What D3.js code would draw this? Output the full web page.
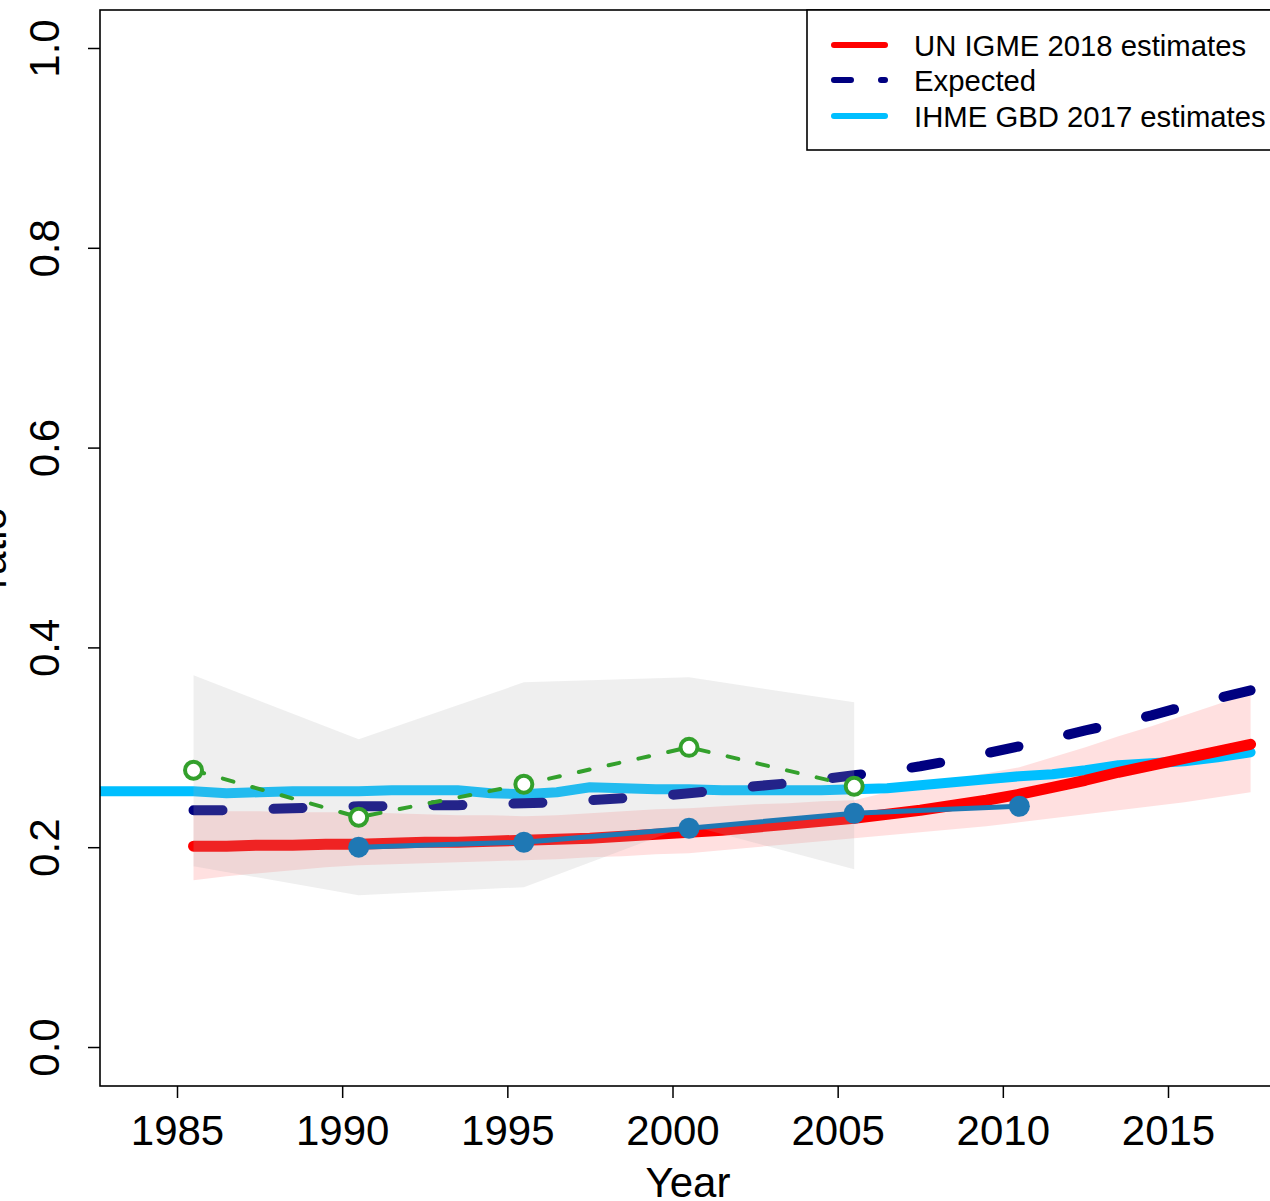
<!DOCTYPE html>
<html>
<head>
<meta charset="utf-8">
<script src="https://cdn.jsdelivr.net/npm/d3@7"></script>
<style>
  html, body { margin: 0; padding: 0; background: #fff; }
  svg { display: block; }
  text { font-family: "Liberation Sans", Arial, Helvetica, sans-serif; fill: #000; }
</style>
</head>
<body>
<svg id="chart" width="1270" height="1201"></svg>
<script>
// ---------------- data ----------------
const estYears = [1985.5,1986.5,1987.5,1988.5,1989.5,1990.5,1991.5,1992.5,1993.5,1994.5,
  1995.5,1996.5,1997.5,1998.5,1999.5,2000.5,2001.5,2002.5,2003.5,2004.5,
  2005.5,2006.5,2007.5,2008.5,2009.5,2010.5,2011.5,2012.5,2013.5,2014.5,
  2015.5,2016.5,2017.5];
const igme = [0.201,0.201,0.202,0.202,0.203,0.203,0.204,0.205,0.205,0.206,
  0.207,0.208,0.209,0.211,0.213,0.215,0.217,0.220,0.223,0.226,
  0.229,0.233,0.237,0.242,0.247,0.253,0.260,0.267,0.275,0.282,
  0.289,0.296,0.303];
const igmeLower = [0.167,0.171,0.174,0.177,0.180,0.182,0.183,0.184,0.185,0.186,
  0.187,0.188,0.190,0.191,0.193,0.194,0.197,0.200,0.203,0.206,
  0.209,0.212,0.215,0.218,0.221,0.225,0.229,0.233,0.237,0.241,
  0.245,0.250,0.255];
const igmeUpper = [0.237,0.236,0.236,0.235,0.235,0.235,0.234,0.233,0.232,0.232,
  0.231,0.232,0.234,0.236,0.238,0.239,0.241,0.243,0.244,0.246,
  0.247,0.255,0.262,0.268,0.274,0.280,0.290,0.300,0.311,0.321,
  0.332,0.343,0.354];
const expected = [0.237,0.237,0.238,0.239,0.240,0.241,0.241,0.242,0.242,0.243,
  0.244,0.245,0.247,0.249,0.251,0.254,0.257,0.261,0.264,0.268,
  0.272,0.276,0.281,0.287,0.294,0.301,0.309,0.317,0.324,0.332,
  0.341,0.349,0.357];

const ihmeYears = [1980.5,1981.5,1982.5,1983.5,1984.5,1985.5,1986.5,1987.5,1988.5,1989.5,
  1990.5,1991.5,1992.5,1993.5,1994.5,1995.5,1996.5,1997.5,1998.5,1999.5,
  2000.5,2001.5,2002.5,2003.5,2004.5,2005.5,2006.5,2007.5,2008.5,2009.5,
  2010.5,2011.5,2012.5,2013.5,2014.5,2015.5,2016.5,2017.5];
const ihme = [0.256,0.256,0.256,0.256,0.256,0.256,0.254,0.255,0.256,0.256,
  0.256,0.257,0.257,0.257,0.254,0.253,0.255,0.260,0.259,0.258,
  0.258,0.257,0.257,0.257,0.257,0.258,0.259,0.262,0.265,0.268,
  0.271,0.273,0.277,0.282,0.284,0.286,0.290,0.295];

const obsYears = [1985.5,1990.5,1995.5,2000.5,2005.5];
const obsLower = [0.181,0.152,0.160,0.222,0.178];
const obsUpper = [0.372,0.308,0.365,0.370,0.345];
const obsValues = [0.277,0.230,0.263,0.300,0.261];

const adjYears = [1990.5,1995.5,2000.5,2005.5,2010.5];
const adjValues = [0.200,0.205,0.219,0.234,0.241];

const xTicks = [1985,1990,1995,2000,2005,2010,2015];
const yTicks = [0.0,0.2,0.4,0.6,0.8,1.0];
const legendLabels = ["UN IGME 2018 estimates","Expected","IHME GBD 2017 estimates"];
const xLabel = "Year";
const yLabel = "ratio";

// ---------------- layout ----------------
const plot = {left: 100, top: 10, right: 1276, bottom: 1086};
const x = d3.scaleLinear().domain([1985, 2015]).range([177, 1168]);
const y = d3.scaleLinear().domain([0, 1]).range([1047, 48]);

const svg = d3.select("#chart");
svg.append("defs").append("clipPath").attr("id","plotclip")
  .append("rect").attr("x",plot.left).attr("y",plot.top)
  .attr("width",plot.right-plot.left).attr("height",plot.bottom-plot.top);

const g = svg.append("g").attr("clip-path","url(#plotclip)");

const zip = (xs, ys) => xs.map((v,i) => [v, ys[i]]);
const line = d3.line().x(d => x(d[0])).y(d => y(d[1]));
const area = d3.area().x(d => x(d[0])).y0(d => y(d[1])).y1(d => y(d[2]));

// pink uncertainty band
g.append("path")
  .datum(estYears.map((v,i) => [v, igmeLower[i], igmeUpper[i]]))
  .attr("d", area)
  .attr("fill","rgba(255,0,0,0.12)");

// IHME line
g.append("path").datum(zip(ihmeYears, ihme)).attr("d", line)
  .attr("fill","none").attr("stroke","#00BFFF").attr("stroke-width",10)
  .attr("stroke-linecap","round").attr("stroke-linejoin","round");

// Expected dashed
g.append("path").datum(zip(estYears, expected)).attr("d", line)
  .attr("fill","none").attr("stroke","#000080").attr("stroke-width",10)
  .attr("stroke-dasharray","29 51")
  .attr("stroke-linecap","round").attr("stroke-linejoin","round");

// UN IGME red line
g.append("path").datum(zip(estYears, igme)).attr("d", line)
  .attr("fill","none").attr("stroke","#FF0000").attr("stroke-width",11)
  .attr("stroke-linecap","round").attr("stroke-linejoin","round");

// grey band (overlay)
g.append("path")
  .datum(obsYears.map((v,i) => [v, obsLower[i], obsUpper[i]]))
  .attr("d", area)
  .attr("fill","rgba(175,175,175,0.2)");

// blue adjusted data
g.append("path").datum(zip(adjYears, adjValues)).attr("d", line)
  .attr("fill","none").attr("stroke","#1F78B4").attr("stroke-width",5)
  .attr("stroke-linecap","round").attr("stroke-linejoin","round");
g.selectAll("circle.adj").data(zip(adjYears, adjValues)).enter().append("circle")
  .attr("class","adj").attr("cx", d => x(d[0])).attr("cy", d => y(d[1]))
  .attr("r", 10.5).attr("fill","#1F78B4");

// green observed data
g.append("path").datum(zip(obsYears, obsValues)).attr("d", line)
  .attr("fill","none").attr("stroke","#33A02C").attr("stroke-width",4)
  .attr("stroke-dasharray","11 19.5")
  .attr("stroke-linecap","round").attr("stroke-linejoin","round");
g.selectAll("circle.obs").data(zip(obsYears, obsValues)).enter().append("circle")
  .attr("class","obs").attr("cx", d => x(d[0])).attr("cy", d => y(d[1]))
  .attr("r", 8.5).attr("fill","#fff").attr("stroke","#33A02C").attr("stroke-width",4);

// ---------------- axes ----------------
const xAxis = d3.axisBottom(x).tickValues(xTicks).tickSize(12).tickPadding(17)
  .tickFormat(d3.format("d"));
const xg = svg.append("g").attr("transform",`translate(0,${plot.bottom})`).call(xAxis);
xg.select(".domain").remove();
xg.selectAll("line").attr("stroke","#000").attr("stroke-width",1.5);
xg.selectAll("text").attr("font-size",42).attr("dy","0.71em")
  .style("font-family",'"Liberation Sans", Arial, sans-serif');

const yAxis = d3.axisLeft(y).tickValues(yTicks).tickSize(12).tickFormat(d3.format(".1f"));
const yg = svg.append("g").attr("transform",`translate(${plot.left},0)`).call(yAxis);
yg.select(".domain").remove();
yg.selectAll("line").attr("stroke","#000").attr("stroke-width",1.5);
yg.selectAll("text")
  .attr("x", null).attr("dy", null)
  .attr("font-size",42)
  .attr("text-anchor","middle")
  .attr("transform","translate(-41,0) rotate(-90)")
  .style("font-family",'"Liberation Sans", Arial, sans-serif');

// plot box
svg.append("rect").attr("x",plot.left).attr("y",plot.top)
  .attr("width",plot.right-plot.left).attr("height",plot.bottom-plot.top)
  .attr("fill","none").attr("stroke","#000").attr("stroke-width",1.6);

// axis titles
svg.append("text").attr("x",(plot.left+plot.right)/2).attr("y",1197)
  .attr("text-anchor","middle").attr("font-size",42).text(xLabel);
svg.append("text").attr("transform",`translate(6,${(plot.top+plot.bottom)/2}) rotate(-90)`)
  .attr("text-anchor","middle").attr("font-size",42).text(yLabel);

// ---------------- legend ----------------
const lg = svg.append("g");
lg.append("rect").attr("x",807).attr("y",plot.top).attr("width",plot.right-807).attr("height",140)
  .attr("fill","#fff").attr("stroke","#000").attr("stroke-width",1.6);
const legendStyles = [
  {color:"#FF0000", dash:null},
  {color:"#000080", dash:"17 30"},
  {color:"#00BFFF", dash:null}
];
const legendY = [45, 80, 116];
legendLabels.forEach((lab, i) => {
  const s = legendStyles[i];
  const l = lg.append("line").attr("x1",834).attr("x2",885)
    .attr("y1",legendY[i]).attr("y2",legendY[i])
    .attr("stroke",s.color).attr("stroke-width",6).attr("stroke-linecap","round");
  if (s.dash) l.attr("stroke-dasharray", s.dash);
  lg.append("text").attr("x",914).attr("y",legendY[i]).attr("dy","0.36em")
    .attr("font-size",29.3).text(lab);
});
</script>
</body>
</html>
